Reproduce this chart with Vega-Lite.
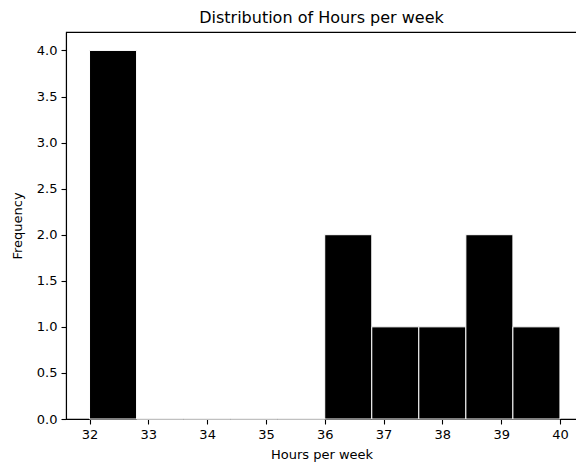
{
  "$schema": "https://vega.github.io/schema/vega-lite/v6.json",
  "autosize": "none",
  "width": 511,
  "height": 387,
  "padding": {"left": 66, "top": 32, "right": 0, "bottom": 47},
  "background": "white",
  "title": {
    "text": "Distribution of Hours per week",
    "font": "DejaVu Sans",
    "fontSize": 16,
    "fontWeight": "normal",
    "color": "black",
    "anchor": "middle",
    "offset": 6
  },
  "config": {
    "view": {"stroke": "black", "strokeWidth": 1.1},
    "axis": {
      "labelFont": "DejaVu Sans",
      "titleFont": "DejaVu Sans",
      "labelFontSize": 13,
      "titleFontSize": 13,
      "titleFontWeight": "normal",
      "labelColor": "black",
      "titleColor": "black",
      "domainColor": "black",
      "tickColor": "black",
      "domainWidth": 1.1,
      "tickWidth": 1.1,
      "tickSize": 5,
      "labelPadding": 4,
      "grid": false,
      "zindex": 1
    }
  },
  "data": {
    "values": [
      {"bin_start": 32.0, "bin_end": 32.8, "count": 4},
      {"bin_start": 32.8, "bin_end": 33.6, "count": 0},
      {"bin_start": 33.6, "bin_end": 34.4, "count": 0},
      {"bin_start": 34.4, "bin_end": 35.2, "count": 0},
      {"bin_start": 35.2, "bin_end": 36.0, "count": 0},
      {"bin_start": 36.0, "bin_end": 36.8, "count": 2},
      {"bin_start": 36.8, "bin_end": 37.6, "count": 1},
      {"bin_start": 37.6, "bin_end": 38.4, "count": 1},
      {"bin_start": 38.4, "bin_end": 39.2, "count": 2},
      {"bin_start": 39.2, "bin_end": 40.0, "count": 1}
    ]
  },
  "mark": {"type": "bar", "color": "black", "stroke": "white", "strokeWidth": 1},
  "encoding": {
    "x": {
      "field": "bin_start",
      "type": "quantitative",
      "scale": {"domain": [31.6, 40.29], "nice": false, "zero": false},
      "axis": {"title": "Hours per week", "values": [32, 33, 34, 35, 36, 37, 38, 39, 40], "format": "d", "titlePadding": 7}
    },
    "x2": {"field": "bin_end"},
    "y": {
      "field": "count",
      "type": "quantitative",
      "scale": {"domain": [0, 4.2], "nice": false},
      "axis": {"title": "Frequency", "values": [0, 0.5, 1, 1.5, 2, 2.5, 3, 3.5, 4], "format": ".1f", "titlePadding": 12}
    },
    "y2": {"datum": 0}
  }
}
